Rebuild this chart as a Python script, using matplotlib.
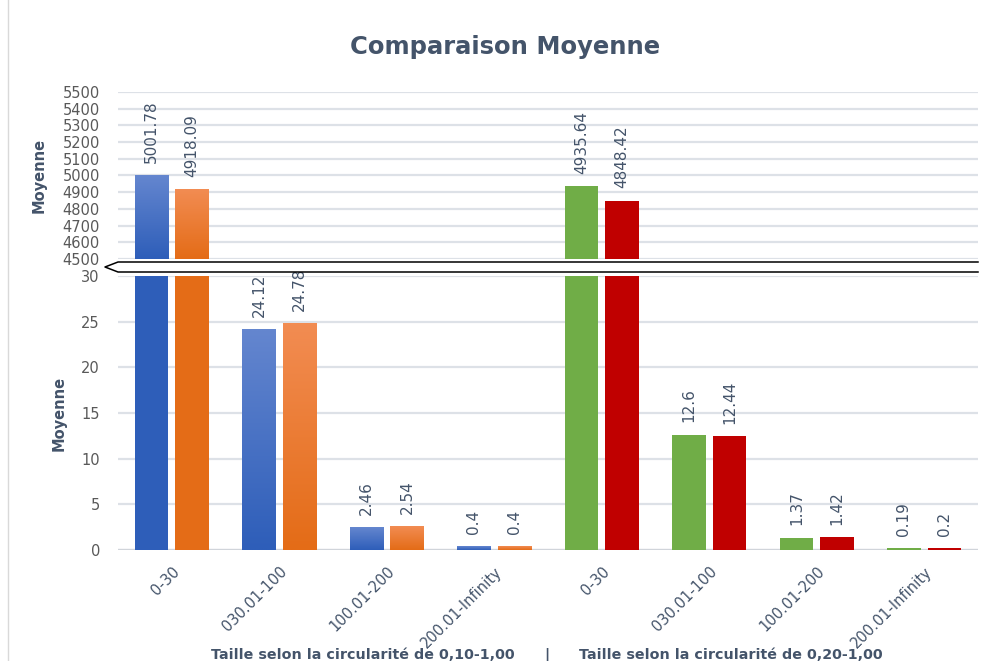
import numpy as np
import matplotlib
matplotlib.use("Agg")
import matplotlib.pyplot as plt
from matplotlib.lines import Line2D
from matplotlib.patches import Polygon
from matplotlib.colors import to_rgb

# ---- data ----
categories = ["0-30", "030.01-100", "100.01-200", "200.01-Infinity",
              "0-30", "030.01-100", "100.01-200", "200.01-Infinity"]
serie_a = [5001.78, 24.12, 2.46, 0.4, 4935.64, 12.6, 1.37, 0.19]
serie_b = [4918.09, 24.78, 2.54, 0.4, 4848.42, 12.44, 1.42, 0.2]
group_left = "Taille selon la circularité de 0,10-1,00"
group_right = "Taille selon la circularité de 0,20-1,00"

TOP_LIM = (4500, 5500)
BOT_LIM = (0, 30)

# colours: (light top, dark bottom) for gradient bars
BLUE = ("#6486cf", "#2e5eb9")
ORANGE = ("#f28c52", "#e46c17")
GREEN = "#70ad47"
RED = "#c00000"
TXT = "#44546a"
TICK = "#595959"
GRID = "#dde1e7"

W = 0.31
OFF = 0.188

plt.rcParams["font.family"] = ["DejaVu Sans"]

fig = plt.figure(figsize=(9.88, 6.61), dpi=100)
ax_top = fig.add_axes([0.1194, 0.6082, 0.8704, 0.2526])
ax_bot = fig.add_axes([0.1194, 0.1679, 0.8704, 0.4145])

x = np.arange(len(categories))


def grad_bar(ax, xc, y0, y1, cols):
    n = 64
    c_top = np.array(to_rgb(cols[0]))
    c_bot = np.array(to_rgb(cols[1]))
    t = np.linspace(0, 1, n)[:, None]
    img = (c_bot * (1 - t) + c_top * t)[:, None, :]
    ax.imshow(img, extent=[xc - W / 2, xc + W / 2, y0, y1], origin="lower",
              aspect="auto", zorder=2, interpolation="bilinear")


for ax, (lo, hi) in ((ax_top, TOP_LIM), (ax_bot, BOT_LIM)):
    for i in range(len(categories)):
        for j, vals in enumerate((serie_a, serie_b)):
            v = vals[i]
            xc = x[i] + (-OFF if j == 0 else OFF)
            left = i < 4
            if v <= lo:
                continue
            top = min(v, hi)
            if left:
                cols = BLUE if j == 0 else ORANGE
                if v > hi:
                    ax.bar(xc, top - lo, W, bottom=lo, color=cols[1], zorder=2)
                else:
                    grad_bar(ax, xc, lo, top, cols)
            else:
                ax.bar(xc, top - lo, W, bottom=lo,
                       color=GREEN if j == 0 else RED, zorder=2)
            if v <= hi:
                ax.annotate(f"{v:g}", (xc, v), xytext=(0, 9),
                            textcoords="offset points", rotation=90,
                            ha="center", va="bottom", fontsize=11,
                            color=TXT)

    ax.set_xlim(-0.5, len(categories) - 0.5)
    ax.set_ylim(lo, hi)
    for s in ax.spines.values():
        s.set_visible(False)
    ax.grid(axis="y", color=GRID, lw=1.6, zorder=0)
    ax.set_axisbelow(True)
    ax.tick_params(length=0, labelsize=10.5, labelcolor=TICK, pad=13)

ax_top.set_yticks(np.arange(4500, 5501, 100))
ax_top.set_xticks([])
ax_bot.set_yticks(np.arange(0, 31, 5))
ax_bot.set_xticks(x)
ax_bot.set_xticklabels(categories, rotation=45, ha="right",
                       rotation_mode="anchor", color=TXT)
ax_bot.tick_params(axis="x", pad=10)
ax_bot.axhline(0, color="#d0d4da", lw=1.6, zorder=1)

ax_top.set_ylabel("Moyenne", fontsize=10.5, fontweight="bold", color=TXT)
ax_top.yaxis.set_label_coords(-0.083, 0.5)
ax_bot.set_ylabel("Moyenne", fontsize=10.5, fontweight="bold", color=TXT)
ax_bot.yaxis.set_label_coords(-0.060, 0.5)

fig.text(0.511, 0.929, "Comparaison Moyenne", ha="center", va="center",
         fontsize=17.5, fontweight="bold", color=TXT)

yb = 1 - 655 / 661
fig.text(363 / 988, yb, group_left, ha="center", va="center",
         fontsize=10.3, fontweight="bold", color=TXT)
fig.text(547 / 988, yb, "|", ha="center", va="center", fontsize=10.3,
         fontweight="bold", color=TXT)
fig.text(731 / 988, yb, group_right, ha="center", va="center",
         fontsize=10.3, fontweight="bold", color=TXT)

# axis break band
y_t, y_m, y_b = 1 - 262 / 661, 1 - 267 / 661, 1 - 272 / 661
x_tip, x_s, x_e = 105 / 988, 118 / 988, 978 / 988
fig.add_artist(Polygon([(x_e, y_t), (x_s, y_t), (x_tip, y_m), (x_s, y_b),
                        (x_e, y_b)], closed=True, facecolor="white",
                       edgecolor="none", transform=fig.transFigure, zorder=5))
fig.add_artist(Line2D([x_e, x_s, x_tip, x_s, x_e], [y_t, y_t, y_m, y_b, y_b],
                      color="black", lw=1.1, transform=fig.transFigure,
                      zorder=6))

# chart frame line on the left
fig.add_artist(Line2D([8 / 988, 8 / 988], [0, 1], color="#d9d9d9", lw=1,
                      transform=fig.transFigure))

fig.savefig("out.png", dpi=100)
